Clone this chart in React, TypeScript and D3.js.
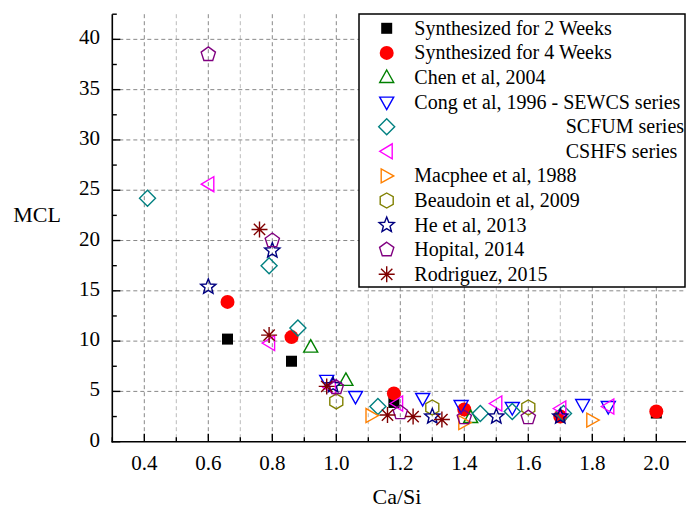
import React from "react";
import * as d3 from "d3";

const xTicks = [0.4, 0.6, 0.8, 1.0, 1.2, 1.4, 1.6, 1.8, 2.0];
const xMinorTicks = [0.3, 0.5, 0.7, 0.9, 1.1, 1.3, 1.5, 1.7, 1.9];
const yTicks = [0, 5, 10, 15, 20, 25, 30, 35, 40];
const yMinorTicks = [2.5, 7.5, 12.5, 17.5, 22.5, 27.5, 32.5, 37.5, 42.5];

const synth2 = [[0.66, 10.2], [0.86, 8.0], [1.18, 3.9], [2.0, 2.85]];
const synth4 = [[0.66, 13.9], [0.86, 10.4], [1.18, 4.8], [1.4, 3.2], [1.7, 2.5], [2.0, 3.0]];
const chen = [[0.92, 9.4], [1.03, 6.1], [1.42, 2.4]];
const congSEWCS = [[0.97, 6.1], [1.06, 4.5], [1.27, 4.3], [1.39, 3.6], [1.55, 3.4], [1.77, 3.7], [1.85, 3.5]];
const congSCFUM = [[0.41, 24.2], [0.79, 17.5], [0.88, 11.3], [1.13, 3.5], [1.45, 2.8], [1.55, 3.0], [1.71, 2.8]];
const congCSHFS = [[0.6, 25.6], [0.79, 9.8], [0.98, 5.4], [1.19, 3.8], [1.5, 3.8], [1.7, 3.3], [1.85, 3.5]];
const macphee = [[1.11, 2.6], [1.4, 1.9], [1.8, 2.15]];
const beaudoin = [[1.0, 4.0], [1.3, 3.4], [1.6, 3.4]];
const he = [[0.6, 15.4], [0.8, 19.0], [0.99, 5.6], [1.3, 2.5], [1.5, 2.5], [1.7, 2.5]];
const hopital = [[0.6, 38.5], [0.8, 20.0], [1.0, 5.4], [1.2, 2.9], [1.4, 2.4], [1.6, 2.4]];
const rodriguez = [[0.76, 21.1], [0.79, 10.6], [0.97, 5.5], [1.16, 2.65], [1.24, 2.5], [1.33, 2.2]];

const seriesNames = [
  "Synthesized for 2 Weeks",
  "Synthesized for 4 Weeks",
  "Chen et al, 2004",
  "Cong et al, 1996 - SEWCS series",
  "SCFUM series",
  "CSHFS series",
  "Macphee et al, 1988",
  "Beaudoin et al, 2009",
  "He et al, 2013",
  "Hopital, 2014",
  "Rodriguez, 2015",
];

const series = [
  { name: seriesNames[0], data: synth2, shape: "square", color: "#000000" },
  { name: seriesNames[1], data: synth4, shape: "circle", color: "#ff0000" },
  { name: seriesNames[2], data: chen, shape: "triUp", color: "#008000" },
  { name: seriesNames[3], data: congSEWCS, shape: "triDown", color: "#0000ff" },
  { name: seriesNames[4], data: congSCFUM, shape: "diamond", color: "#008080", indent: true },
  { name: seriesNames[5], data: congCSHFS, shape: "triLeft", color: "#ff00ff", indent: true },
  { name: seriesNames[6], data: macphee, shape: "triRight", color: "#ff8000" },
  { name: seriesNames[7], data: beaudoin, shape: "hexagon", color: "#808000" },
  { name: seriesNames[8], data: he, shape: "star", color: "#000080" },
  { name: seriesNames[9], data: hopital, shape: "pentagon", color: "#800080" },
  { name: seriesNames[10], data: rodriguez, shape: "asterisk", color: "#800000" },
];

function poly(pts: number[][]) {
  return "M" + pts.map((p) => p[0].toFixed(2) + "," + p[1].toFixed(2)).join("L") + "Z";
}
function regular(n: number, r: number, rot: number) {
  const pts: number[][] = [];
  for (let i = 0; i < n; i++) {
    const a = rot + (i * 2 * Math.PI) / n;
    pts.push([r * Math.sin(a), -r * Math.cos(a)]);
  }
  return poly(pts);
}
function starPath(ro: number, ri: number) {
  const pts: number[][] = [];
  for (let i = 0; i < 10; i++) {
    const r = i % 2 === 0 ? ro : ri;
    const a = (i * Math.PI) / 5;
    pts.push([r * Math.sin(a), -r * Math.cos(a)]);
  }
  return poly(pts);
}

function Marker({ shape, color, x, y }: { shape: string; color: string; x: number; y: number }) {
  const t = `translate(${x},${y})`;
  const sw = 1.4;
  switch (shape) {
    case "square":
      return <rect transform={t} x={-5.5} y={-5.5} width={11} height={11} fill={color} />;
    case "circle":
      return <circle transform={t} r={7} fill={color} />;
    case "triUp":
      return <path transform={t} d={poly([[0, -7.5], [7, 5], [-7, 5]])} fill="none" stroke={color} strokeWidth={sw} />;
    case "triDown":
      return <path transform={t} d={poly([[0, 7.5], [7, -5], [-7, -5]])} fill="none" stroke={color} strokeWidth={sw} />;
    case "diamond":
      return <path transform={t} d={poly([[0, -8], [8, 0], [0, 8], [-8, 0]])} fill="none" stroke={color} strokeWidth={sw} />;
    case "triLeft":
      return <path transform={t} d={poly([[-7, 0], [5.5, -7.5], [5.5, 7.5]])} fill="none" stroke={color} strokeWidth={sw} />;
    case "triRight":
      return <path transform={t} d={poly([[7, 0], [-5.5, -7], [-5.5, 7]])} fill="none" stroke={color} strokeWidth={sw} />;
    case "hexagon":
      return <path transform={t} d={regular(6, 7.5, 0)} fill="none" stroke={color} strokeWidth={sw} />;
    case "pentagon":
      return <path transform={t} d={regular(5, 7.5, 0)} fill="none" stroke={color} strokeWidth={sw} />;
    case "star":
      return <path transform={t} d={starPath(8, 3.5)} fill="none" stroke={color} strokeWidth={sw} />;
    case "asterisk": {
      const r = 8;
      const d = r * Math.SQRT1_2;
      return (
        <path
          transform={t}
          d={`M0,${-r}L0,${r}M${-r},0L${r},0M${-d},${-d}L${d},${d}M${-d},${d}L${d},${-d}`}
          fill="none"
          stroke={color}
          strokeWidth={sw}
        />
      );
    }
  }
  return null;
}

const FONT = '"Liberation Serif", "DejaVu Serif", serif';

export default function App() {
  const W = 686;
  const H = 512;
  const x = d3.scaleLinear().domain([0.3, 2.1]).range([112.3, 688.3]);
  const y = d3.scaleLinear().domain([0, 42.5]).range([441.7, 14.2]);
  const ts = { fontFamily: FONT };

  const legX = 359;
  const legY = 14;
  const legW = 326;
  const legH = 273;
  const rowH = 24.6;

  return (
    <svg width={W} height={H} style={{ position: "absolute", left: 0, top: 0, background: "#fff", fontFamily: FONT }}>
      <rect width={W} height={H} fill="#fff" />
      {/* grid */}
      {xMinorTicks.filter((v) => v > 0.35).map((v) => (
        <line key={"gm" + v} x1={x(v)} x2={x(v)} y1={y(42.5)} y2={y(0)} stroke="#bbbbbb" strokeWidth={1} strokeDasharray="4,3" />
      ))}
      {xTicks.map((v) => (
        <line key={"gx" + v} x1={x(v)} x2={x(v)} y1={y(42.5)} y2={y(0)} stroke="#888888" strokeWidth={1} strokeDasharray="4,3" />
      ))}
      {yTicks.filter((v) => v > 0).map((v) => (
        <line key={"gy" + v} x1={x(0.3)} x2={x(2.1)} y1={y(v)} y2={y(v)} stroke="#888888" strokeWidth={1} strokeDasharray="4,3" />
      ))}
      {/* axes */}
      <line x1={x(0.3)} x2={x(0.3)} y1={y(42.5)} y2={y(0) + 0.75} stroke="#000" strokeWidth={1.6} />
      <line x1={x(0.3) - 0.75} x2={x(2.1)} y1={y(0)} y2={y(0)} stroke="#000" strokeWidth={1.6} />
      {yTicks.map((v) => (
        <line key={"ty" + v} x1={x(0.3)} x2={x(0.3) + 8} y1={y(v)} y2={y(v)} stroke="#000" strokeWidth={1.4} />
      ))}
      {yMinorTicks.map((v) => (
        <line key={"tym" + v} x1={x(0.3)} x2={x(0.3) + 4.5} y1={y(v)} y2={y(v)} stroke="#000" strokeWidth={1.4} />
      ))}
      {xTicks.map((v) => (
        <line key={"tx" + v} x1={x(v)} x2={x(v)} y1={y(0)} y2={y(0) - 8} stroke="#000" strokeWidth={1.4} />
      ))}
      {xMinorTicks.map((v) => (
        <line key={"txm" + v} x1={x(v)} x2={x(v)} y1={y(0)} y2={y(0) - 4.5} stroke="#000" strokeWidth={1.4} />
      ))}
      {/* tick labels */}
      {yTicks.map((v) => (
        <text key={"ly" + v} x={100} y={y(v) + 5} textAnchor="end" style={ts} fontSize={21} fill="#000">
          {String(v)}
        </text>
      ))}
      {xTicks.map((v) => (
        <text key={"lx" + v} x={x(v)} y={470} textAnchor="middle" style={ts} fontSize={21} fill="#000">
          {v.toFixed(1)}
        </text>
      ))}
      <text x={37} y={222} textAnchor="middle" style={ts} fontSize={22} fill="#000">MCL</text>
      <text x={397} y={504} textAnchor="middle" style={ts} fontSize={22} fill="#000">Ca/Si</text>
      {/* data */}
      {series.map((s, si) => (
        <g key={"s" + si}>
          {s.data.map((d, i) => (
            <Marker key={i} shape={s.shape} color={s.color} x={x(d[0])} y={y(d[1])} />
          ))}
        </g>
      ))}
      {/* legend */}
      <rect x={legX} y={legY} width={legW} height={legH} fill="#fff" stroke="#000" strokeWidth={1.5} />
      {series.map((s, i) => {
        const cy = 28.3 + i * rowH;
        return (
          <g key={"lg" + i}>
            <Marker shape={s.shape} color={s.color} x={386.7} y={cy} />
            <text x={s.indent ? 565.7 : 414.3} y={cy + 6.5} style={ts} fontSize={20} fill="#000">
              {s.name}
            </text>
          </g>
        );
      })}
    </svg>
  );
}
